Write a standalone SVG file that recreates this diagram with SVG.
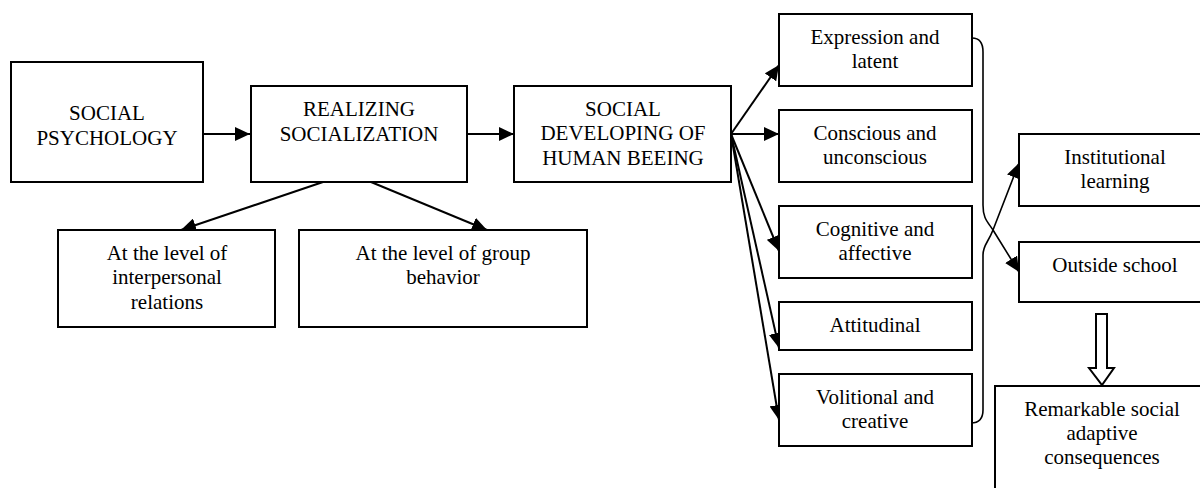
<svg xmlns="http://www.w3.org/2000/svg" width="1200" height="488" viewBox="0 0 1200 488">
<style>
.box{fill:#fff;stroke:#000;stroke-width:2}
.t text{font-family:"Liberation Serif","Times New Roman",Times,"Nimbus Roman",FreeSerif,"Noto Serif","DejaVu Serif",serif;font-size:21px;fill:#000;text-anchor:middle}
.ln{fill:none;stroke:#000;stroke-width:2}
.cv{fill:none;stroke:#000;stroke-width:1.6}
</style>
<defs>
<marker id="ah" viewBox="0 0 15 14" refX="15" refY="7" markerWidth="15" markerHeight="14" markerUnits="userSpaceOnUse" orient="auto">
<path d="M0,0 L15,7 L0,14 Z" fill="#000"/>
</marker>
</defs>
<g id="connectors">
<line class="ln" x1="203" y1="134" x2="250" y2="134" marker-end="url(#ah)"/>
<line class="ln" x1="467" y1="134" x2="514" y2="134" marker-end="url(#ah)"/>
<line class="ln" x1="323" y1="182" x2="181" y2="230" marker-end="url(#ah)"/>
<line class="ln" x1="371" y1="182" x2="487" y2="230" marker-end="url(#ah)"/>
<line class="ln" x1="731" y1="134" x2="779" y2="65" marker-end="url(#ah)"/>
<line class="ln" x1="731" y1="134" x2="779" y2="134" marker-end="url(#ah)"/>
<line class="ln" x1="731" y1="134" x2="779" y2="251" marker-end="url(#ah)"/>
<line class="ln" x1="731" y1="134" x2="779" y2="348" marker-end="url(#ah)"/>
<line class="ln" x1="731" y1="134" x2="779" y2="420" marker-end="url(#ah)"/>
<path class="cv" d="M972,38 Q983,38 983,52 L983,205 C983,218 987,221 993,230 L1019,272" marker-end="url(#ah)"/>
<path class="cv" d="M971,423 Q983,423 983,410 L983,255 C983,245 988,243 993,230 L1019,163" marker-end="url(#ah)"/>
<path d="M1096,314 L1107,314 L1107,368 L1114,368 L1102,385 L1089,368 L1096,368 Z" fill="#fff" stroke="#000" stroke-width="2" stroke-linejoin="miter"/>
</g>
<g class="t">
<g id="social-psychology">
<rect class="box" x="11" y="62" width="192" height="120"/>
<text x="107" y="120">SOCIAL</text>
<text x="107" y="145">PSYCHOLOGY</text>
</g>
<g id="realizing-socialization">
<rect class="box" x="251" y="86" width="216" height="96"/>
<text x="359" y="116">REALIZING</text>
<text x="359" y="141">SOCIALIZATION</text>
</g>
<g id="social-developing">
<rect class="box" x="514" y="86" width="217" height="96"/>
<text x="623" y="116">SOCIAL</text>
<text x="623" y="140">DEVELOPING OF</text>
<text x="623" y="165">HUMAN BEEING</text>
</g>
<g id="interpersonal">
<rect class="box" x="58" y="230" width="217" height="97"/>
<text x="167" y="260">At the level of</text>
<text x="167" y="284">interpersonal</text>
<text x="167" y="309">relations</text>
</g>
<g id="group-behavior">
<rect class="box" x="299" y="230" width="288" height="97"/>
<text x="443" y="260">At the level of group</text>
<text x="443" y="284">behavior</text>
</g>
<g id="expression">
<rect class="box" x="779" y="14" width="193" height="72"/>
<text x="875" y="44">Expression and</text>
<text x="875" y="68">latent</text>
</g>
<g id="conscious">
<rect class="box" x="779" y="110" width="193" height="72"/>
<text x="875" y="140">Conscious and</text>
<text x="875" y="164">unconscious</text>
</g>
<g id="cognitive">
<rect class="box" x="779" y="206" width="193" height="72"/>
<text x="875" y="236">Cognitive and</text>
<text x="875" y="260">affective</text>
</g>
<g id="attitudinal">
<rect class="box" x="779" y="302" width="193" height="48"/>
<text x="875" y="332">Attitudinal</text>
</g>
<g id="volitional">
<rect class="box" x="779" y="374" width="193" height="72"/>
<text x="875" y="404">Volitional and</text>
<text x="875" y="428">creative</text>
</g>
<g id="institutional">
<rect class="box" x="1019" y="134" width="192" height="72"/>
<text x="1115" y="164">Institutional</text>
<text x="1115" y="188">learning</text>
</g>
<g id="outside-school">
<rect class="box" x="1019" y="242" width="192" height="60"/>
<text x="1115" y="272">Outside school</text>
</g>
<g id="remarkable">
<rect class="box" x="995" y="386" width="214" height="120"/>
<text x="1102" y="416">Remarkable social</text>
<text x="1102" y="440">adaptive</text>
<text x="1102" y="464">consequences</text>
</g>
</g>
</svg>
